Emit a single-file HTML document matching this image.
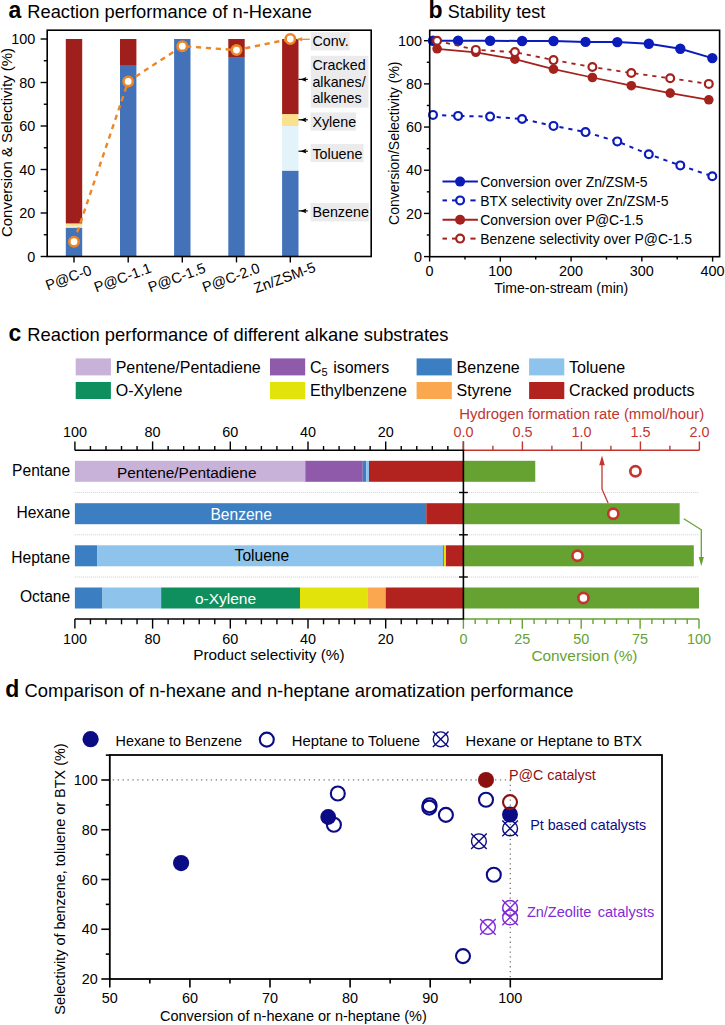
<!DOCTYPE html>
<html><head><meta charset="utf-8"><title>Figure</title>
<style>
html,body{margin:0;padding:0;background:#fff;}
svg{display:block;font-family:"Liberation Sans", Arial, Helvetica, sans-serif;}
</style></head>
<body>
<svg width="725" height="1025" viewBox="0 0 725 1025">
<rect width="725" height="1025" fill="#fff"/>
<text x="8.6" y="17.8" font-size="23" font-weight="bold">a</text>
<text x="27.3" y="17.8" font-size="18.3">Reaction performance of n-Hexane</text>
<rect x="65.8" y="227.57" width="16.4" height="28.93" fill="#4372b8"/>
<rect x="65.8" y="226.49" width="16.4" height="1.09" fill="#e2f3fa"/>
<rect x="65.8" y="223.44" width="16.4" height="3.05" fill="#fbe08e"/>
<rect x="65.8" y="39" width="16.4" height="184.44" fill="#9e1f1b"/>
<rect x="120" y="65.75" width="16.4" height="190.75" fill="#4372b8"/>
<rect x="120" y="39" width="16.4" height="26.75" fill="#9e1f1b"/>
<rect x="174.1" y="39" width="16.4" height="217.5" fill="#4372b8"/>
<rect x="228.3" y="57.05" width="16.4" height="199.45" fill="#4372b8"/>
<rect x="228.3" y="39" width="16.4" height="18.05" fill="#9e1f1b"/>
<rect x="282.1" y="170.59" width="16.4" height="85.91" fill="#4372b8"/>
<rect x="282.1" y="126" width="16.4" height="44.59" fill="#e2f3fa"/>
<rect x="282.1" y="114.04" width="16.4" height="11.96" fill="#fbe08e"/>
<rect x="282.1" y="39" width="16.4" height="75.04" fill="#9e1f1b"/>
<rect x="310.8" y="32.2" width="39" height="18.2" fill="#ebebeb"/>
<rect x="310.8" y="55.8" width="57.7" height="51.8" fill="#ebebeb"/>
<rect x="310.6" y="112.4" width="45.5" height="18.3" fill="#ebebeb"/>
<rect x="310.6" y="144" width="53" height="18.1" fill="#ebebeb"/>
<rect x="310.6" y="203" width="58.3" height="18.4" fill="#ebebeb"/>
<text x="312.4" y="46.2" font-size="14.3">Conv.</text>
<text x="312.4" y="70.3" font-size="14.3">Cracked</text>
<text x="312.4" y="87.2" font-size="14.3">alkanes/</text>
<text x="312.4" y="103.3" font-size="14.3">alkenes</text>
<text x="312.4" y="127.2" font-size="14.3">Xylene</text>
<text x="312.4" y="158.6" font-size="14.3">Toluene</text>
<text x="312.4" y="217.3" font-size="14.3">Benzene</text>
<line x1="298.5" y1="79.4" x2="307.8" y2="79.4" stroke="#000" stroke-width="1.2"/>
<path d="M300.4 79.4 L306.4 77 L305.3 79.4 L306.4 81.8 Z" fill="#000"/>
<line x1="298.5" y1="119.8" x2="307.8" y2="119.8" stroke="#000" stroke-width="1.2"/>
<path d="M300.4 119.8 L306.4 117.4 L305.3 119.8 L306.4 122.2 Z" fill="#000"/>
<line x1="298.5" y1="151.2" x2="307.8" y2="151.2" stroke="#000" stroke-width="1.2"/>
<path d="M300.4 151.2 L306.4 148.8 L305.3 151.2 L306.4 153.6 Z" fill="#000"/>
<line x1="298.5" y1="210.9" x2="307.8" y2="210.9" stroke="#000" stroke-width="1.2"/>
<path d="M300.4 210.9 L306.4 208.5 L305.3 210.9 L306.4 213.3 Z" fill="#000"/>
<line x1="297.5" y1="39.3" x2="309.8" y2="39.3" stroke="#ec8727" stroke-width="1.3"/>
<path d="M296.8 39.3 L302.5 37.0 L301.6 39.3 L302.5 41.6 Z" fill="#ec8727"/>
<rect x="47.2" y="30.2" width="324" height="226.3" fill="none" stroke="#000" stroke-width="1.6"/>
<line x1="40.6" y1="256.5" x2="47.2" y2="256.5" stroke="#000" stroke-width="1.4"/>
<text x="35.2" y="261.6" font-size="14.4" text-anchor="end">0</text>
<line x1="43.8" y1="234.75" x2="47.2" y2="234.75" stroke="#000" stroke-width="1.4"/>
<line x1="40.6" y1="213" x2="47.2" y2="213" stroke="#000" stroke-width="1.4"/>
<text x="35.2" y="218.1" font-size="14.4" text-anchor="end">20</text>
<line x1="43.8" y1="191.25" x2="47.2" y2="191.25" stroke="#000" stroke-width="1.4"/>
<line x1="40.6" y1="169.5" x2="47.2" y2="169.5" stroke="#000" stroke-width="1.4"/>
<text x="35.2" y="174.6" font-size="14.4" text-anchor="end">40</text>
<line x1="43.8" y1="147.75" x2="47.2" y2="147.75" stroke="#000" stroke-width="1.4"/>
<line x1="40.6" y1="126" x2="47.2" y2="126" stroke="#000" stroke-width="1.4"/>
<text x="35.2" y="131.1" font-size="14.4" text-anchor="end">60</text>
<line x1="43.8" y1="104.25" x2="47.2" y2="104.25" stroke="#000" stroke-width="1.4"/>
<line x1="40.6" y1="82.5" x2="47.2" y2="82.5" stroke="#000" stroke-width="1.4"/>
<text x="35.2" y="87.6" font-size="14.4" text-anchor="end">80</text>
<line x1="43.8" y1="60.75" x2="47.2" y2="60.75" stroke="#000" stroke-width="1.4"/>
<line x1="40.6" y1="39" x2="47.2" y2="39" stroke="#000" stroke-width="1.4"/>
<text x="35.2" y="44.1" font-size="14.4" text-anchor="end">100</text>
<line x1="74" y1="256.5" x2="74" y2="262.4" stroke="#000" stroke-width="1.4"/>
<text transform="translate(70.1,282.3) rotate(-20)" font-size="14.5" text-anchor="middle">P@C-0</text>
<line x1="128.2" y1="256.5" x2="128.2" y2="262.4" stroke="#000" stroke-width="1.4"/>
<text transform="translate(124.3,282.3) rotate(-20)" font-size="14.5" text-anchor="middle">P@C-1.1</text>
<line x1="182.3" y1="256.5" x2="182.3" y2="262.4" stroke="#000" stroke-width="1.4"/>
<text transform="translate(178.4,282.3) rotate(-20)" font-size="14.5" text-anchor="middle">P@C-1.5</text>
<line x1="236.5" y1="256.5" x2="236.5" y2="262.4" stroke="#000" stroke-width="1.4"/>
<text transform="translate(232.6,282.3) rotate(-20)" font-size="14.5" text-anchor="middle">P@C-2.0</text>
<line x1="290.3" y1="256.5" x2="290.3" y2="262.4" stroke="#000" stroke-width="1.4"/>
<text transform="translate(286.4,282.3) rotate(-20)" font-size="14.5" text-anchor="middle">Zn/ZSM-5</text>
<polyline points="74,241.71 128.2,81.41 182.3,46.18 236.5,50.09 290.3,39" fill="none" stroke="#ec8727" stroke-width="2.4" stroke-dasharray="5.2,4.7"/>
<circle cx="74" cy="241.71" r="4.7" fill="#fff" stroke="#ec8727" stroke-width="2.6"/>
<circle cx="128.2" cy="81.41" r="4.7" fill="#fff" stroke="#ec8727" stroke-width="2.6"/>
<circle cx="182.3" cy="46.18" r="4.7" fill="#fff" stroke="#ec8727" stroke-width="2.6"/>
<circle cx="236.5" cy="50.09" r="4.7" fill="#fff" stroke="#ec8727" stroke-width="2.6"/>
<circle cx="290.3" cy="39" r="4.7" fill="#fff" stroke="#ec8727" stroke-width="2.6"/>
<text transform="translate(11.6,142.5) rotate(-90)" font-size="15" text-anchor="middle">Conversion &amp; Selectivity (%)</text>
<text x="428.6" y="17.8" font-size="23" font-weight="bold">b</text>
<text x="447.8" y="17.8" font-size="18">Stability<tspan x="516.2">test</tspan></text>
<line x1="424" y1="256.6" x2="429.7" y2="256.6" stroke="#000" stroke-width="1.4"/>
<text x="422" y="261.7" font-size="14.4" text-anchor="end">0</text>
<line x1="426.8" y1="235.01" x2="429.7" y2="235.01" stroke="#000" stroke-width="1.4"/>
<line x1="424" y1="213.42" x2="429.7" y2="213.42" stroke="#000" stroke-width="1.4"/>
<text x="422" y="218.52" font-size="14.4" text-anchor="end">20</text>
<line x1="426.8" y1="191.83" x2="429.7" y2="191.83" stroke="#000" stroke-width="1.4"/>
<line x1="424" y1="170.24" x2="429.7" y2="170.24" stroke="#000" stroke-width="1.4"/>
<text x="422" y="175.34" font-size="14.4" text-anchor="end">40</text>
<line x1="426.8" y1="148.65" x2="429.7" y2="148.65" stroke="#000" stroke-width="1.4"/>
<line x1="424" y1="127.06" x2="429.7" y2="127.06" stroke="#000" stroke-width="1.4"/>
<text x="422" y="132.16" font-size="14.4" text-anchor="end">60</text>
<line x1="426.8" y1="105.47" x2="429.7" y2="105.47" stroke="#000" stroke-width="1.4"/>
<line x1="424" y1="83.88" x2="429.7" y2="83.88" stroke="#000" stroke-width="1.4"/>
<text x="422" y="88.98" font-size="14.4" text-anchor="end">80</text>
<line x1="426.8" y1="62.29" x2="429.7" y2="62.29" stroke="#000" stroke-width="1.4"/>
<line x1="424" y1="40.7" x2="429.7" y2="40.7" stroke="#000" stroke-width="1.4"/>
<text x="422" y="45.8" font-size="14.4" text-anchor="end">100</text>
<line x1="429.6" y1="256.7" x2="429.6" y2="261.6" stroke="#000" stroke-width="1.4"/>
<text x="429.6" y="276.4" font-size="14.4" text-anchor="middle">0</text>
<line x1="464.98" y1="256.7" x2="464.98" y2="259.6" stroke="#000" stroke-width="1.4"/>
<line x1="500.35" y1="256.7" x2="500.35" y2="261.6" stroke="#000" stroke-width="1.4"/>
<text x="500.35" y="276.4" font-size="14.4" text-anchor="middle">100</text>
<line x1="535.73" y1="256.7" x2="535.73" y2="259.6" stroke="#000" stroke-width="1.4"/>
<line x1="571.1" y1="256.7" x2="571.1" y2="261.6" stroke="#000" stroke-width="1.4"/>
<text x="571.1" y="276.4" font-size="14.4" text-anchor="middle">200</text>
<line x1="606.48" y1="256.7" x2="606.48" y2="259.6" stroke="#000" stroke-width="1.4"/>
<line x1="641.85" y1="256.7" x2="641.85" y2="261.6" stroke="#000" stroke-width="1.4"/>
<text x="641.85" y="276.4" font-size="14.4" text-anchor="middle">300</text>
<line x1="677.23" y1="256.7" x2="677.23" y2="259.6" stroke="#000" stroke-width="1.4"/>
<line x1="712.6" y1="256.7" x2="712.6" y2="261.6" stroke="#000" stroke-width="1.4"/>
<text x="712.6" y="276.4" font-size="14.4" text-anchor="middle">400</text>
<text transform="translate(399.4,143.2) rotate(-90)" font-size="14" text-anchor="middle">Conversion/Selectivity (%)</text>
<text x="494.2" y="292.5" font-size="14">Time-on-stream (min)</text>
<polyline points="433,40.7 458.1,40.7 490.1,40.7 522.1,41 553.5,41 585.5,41.9 617.3,42.1 648.8,43.8 680.3,48.8 712.3,58.1" fill="none" stroke="#0c1cba" stroke-width="2.0"/>
<circle cx="433" cy="40.7" r="5.2" fill="#0c1cba"/>
<circle cx="458.1" cy="40.7" r="5.2" fill="#0c1cba"/>
<circle cx="490.1" cy="40.7" r="5.2" fill="#0c1cba"/>
<circle cx="522.1" cy="41" r="5.2" fill="#0c1cba"/>
<circle cx="553.5" cy="41" r="5.2" fill="#0c1cba"/>
<circle cx="585.5" cy="41.9" r="5.2" fill="#0c1cba"/>
<circle cx="617.3" cy="42.1" r="5.2" fill="#0c1cba"/>
<circle cx="648.8" cy="43.8" r="5.2" fill="#0c1cba"/>
<circle cx="680.3" cy="48.8" r="5.2" fill="#0c1cba"/>
<circle cx="712.3" cy="58.1" r="5.2" fill="#0c1cba"/>
<polyline points="433,114.9 458.1,115.9 490.1,116.6 522.1,119 553.5,125.9 585.5,132.1 617.3,141.4 648.8,154.3 680.3,165.4 712.3,176.3" fill="none" stroke="#0c1cba" stroke-width="2.0" stroke-dasharray="4.2,4.9"/>
<circle cx="433" cy="114.9" r="3.9" fill="#fff" stroke="#0c1cba" stroke-width="2.2"/>
<circle cx="458.1" cy="115.9" r="3.9" fill="#fff" stroke="#0c1cba" stroke-width="2.2"/>
<circle cx="490.1" cy="116.6" r="3.9" fill="#fff" stroke="#0c1cba" stroke-width="2.2"/>
<circle cx="522.1" cy="119" r="3.9" fill="#fff" stroke="#0c1cba" stroke-width="2.2"/>
<circle cx="553.5" cy="125.9" r="3.9" fill="#fff" stroke="#0c1cba" stroke-width="2.2"/>
<circle cx="585.5" cy="132.1" r="3.9" fill="#fff" stroke="#0c1cba" stroke-width="2.2"/>
<circle cx="617.3" cy="141.4" r="3.9" fill="#fff" stroke="#0c1cba" stroke-width="2.2"/>
<circle cx="648.8" cy="154.3" r="3.9" fill="#fff" stroke="#0c1cba" stroke-width="2.2"/>
<circle cx="680.3" cy="165.4" r="3.9" fill="#fff" stroke="#0c1cba" stroke-width="2.2"/>
<circle cx="712.3" cy="176.3" r="3.9" fill="#fff" stroke="#0c1cba" stroke-width="2.2"/>
<polyline points="437.1,48.8 475.8,52.3 514.9,59.2 553.5,69.2 592.4,77.5 631.3,85.7 670.2,93.1 708.8,99.8" fill="none" stroke="#a3221d" stroke-width="1.75"/>
<circle cx="437.1" cy="48.8" r="4.8" fill="#a3221d"/>
<circle cx="475.8" cy="52.3" r="4.8" fill="#a3221d"/>
<circle cx="514.9" cy="59.2" r="4.8" fill="#a3221d"/>
<circle cx="553.5" cy="69.2" r="4.8" fill="#a3221d"/>
<circle cx="592.4" cy="77.5" r="4.8" fill="#a3221d"/>
<circle cx="631.3" cy="85.7" r="4.8" fill="#a3221d"/>
<circle cx="670.2" cy="93.1" r="4.8" fill="#a3221d"/>
<circle cx="708.8" cy="99.8" r="4.8" fill="#a3221d"/>
<polyline points="437.1,40.7 475.8,49.9 514.9,52.1 553.5,60.1 592.4,67 631.3,73 670.2,78.3 708.8,83.9" fill="none" stroke="#a3221d" stroke-width="1.8" stroke-dasharray="4.2,4.9"/>
<circle cx="437.1" cy="40.7" r="3.9" fill="#fff" stroke="#a3221d" stroke-width="2.2"/>
<circle cx="475.8" cy="49.9" r="3.9" fill="#fff" stroke="#a3221d" stroke-width="2.2"/>
<circle cx="514.9" cy="52.1" r="3.9" fill="#fff" stroke="#a3221d" stroke-width="2.2"/>
<circle cx="553.5" cy="60.1" r="3.9" fill="#fff" stroke="#a3221d" stroke-width="2.2"/>
<circle cx="592.4" cy="67" r="3.9" fill="#fff" stroke="#a3221d" stroke-width="2.2"/>
<circle cx="631.3" cy="73" r="3.9" fill="#fff" stroke="#a3221d" stroke-width="2.2"/>
<circle cx="670.2" cy="78.3" r="3.9" fill="#fff" stroke="#a3221d" stroke-width="2.2"/>
<circle cx="708.8" cy="83.9" r="3.9" fill="#fff" stroke="#a3221d" stroke-width="2.2"/>
<line x1="442.5" y1="181.6" x2="477.9" y2="181.6" stroke="#0c1cba" stroke-width="2"/>
<circle cx="460.1" cy="181.6" r="5" fill="#0c1cba"/>
<text x="480.3" y="186.9" font-size="13.95">Conversion over Zn/ZSM-5</text>
<line x1="442.5" y1="200.4" x2="447" y2="200.4" stroke="#0c1cba" stroke-width="2"/>
<line x1="452" y1="200.4" x2="456.5" y2="200.4" stroke="#0c1cba" stroke-width="2"/>
<line x1="470.4" y1="200.4" x2="475.6" y2="200.4" stroke="#0c1cba" stroke-width="2"/>
<circle cx="460.1" cy="200.4" r="3.9" fill="#fff" stroke="#0c1cba" stroke-width="2.2"/>
<text x="480.3" y="205.7" font-size="13.95">BTX selectivity over Zn/ZSM-5</text>
<line x1="442.5" y1="219.7" x2="477.9" y2="219.7" stroke="#a3221d" stroke-width="2"/>
<circle cx="460.1" cy="219.7" r="5" fill="#a3221d"/>
<text x="480.3" y="225" font-size="13.95">Conversion over P@C-1.5</text>
<line x1="442.5" y1="238.6" x2="447" y2="238.6" stroke="#a3221d" stroke-width="2"/>
<line x1="452" y1="238.6" x2="456.5" y2="238.6" stroke="#a3221d" stroke-width="2"/>
<line x1="470.4" y1="238.6" x2="475.6" y2="238.6" stroke="#a3221d" stroke-width="2"/>
<circle cx="460.1" cy="238.6" r="3.9" fill="#fff" stroke="#a3221d" stroke-width="2.2"/>
<text x="480.3" y="243.9" font-size="13.95">Benzene selectivity over P@C-1.5</text>
<rect x="429.7" y="30.3" width="289.9" height="226.4" fill="none" stroke="#000" stroke-width="1.6"/>
<text x="8.6" y="341" font-size="23" font-weight="bold">c</text>
<text x="27.3" y="341" font-size="18.38">Reaction performance of different alkane substrates</text>
<rect x="75.7" y="358.4" width="35.2" height="17" fill="#c9b2da"/>
<text x="115.7" y="372.8" font-size="16">Pentene/Pentadiene</text>
<rect x="270" y="358.4" width="35.2" height="17" fill="#8f5aa9"/>
<text x="310" y="372.8" font-size="16">C<tspan font-size="11" dy="3">5</tspan><tspan dy="-3" dx="1"> isomers</tspan></text>
<rect x="416.6" y="358.4" width="35.2" height="17" fill="#3b7ec1"/>
<text x="456.6" y="372.8" font-size="16">Benzene</text>
<rect x="529.1" y="358.4" width="35.2" height="17" fill="#8ec4ec"/>
<text x="569.1" y="372.8" font-size="16">Toluene</text>
<rect x="75.7" y="382" width="35.2" height="17" fill="#0f8e5e"/>
<text x="115.7" y="396.4" font-size="16">O-Xylene</text>
<rect x="270" y="382" width="35.2" height="17" fill="#e3e30c"/>
<text x="310" y="396.4" font-size="16">Ethylbenzene</text>
<rect x="416.6" y="382" width="35.2" height="17" fill="#fba750"/>
<text x="456.6" y="396.4" font-size="16">Styrene</text>
<rect x="529.1" y="382" width="35.2" height="17" fill="#b2231f"/>
<text x="569.1" y="396.4" font-size="16">Cracked products</text>
<line x1="74.8" y1="492.5" x2="699" y2="492.5" stroke="#cfcfcf" stroke-width="1.0" stroke-dasharray="1,1"/>
<line x1="74.8" y1="534.8" x2="699" y2="534.8" stroke="#cfcfcf" stroke-width="1.0" stroke-dasharray="1,1"/>
<line x1="74.8" y1="577" x2="699" y2="577" stroke="#cfcfcf" stroke-width="1.0" stroke-dasharray="1,1"/>
<rect x="74.9" y="460.8" width="230.38" height="21" fill="#c9b2da"/>
<rect x="305.28" y="460.8" width="57.5" height="21" fill="#8f5aa9"/>
<rect x="362.78" y="460.8" width="3.5" height="21" fill="#3b7ec1"/>
<rect x="366.27" y="460.8" width="2.72" height="21" fill="#8ec4ec"/>
<rect x="368.99" y="460.8" width="94.41" height="21" fill="#b2231f"/>
<rect x="463.4" y="460.8" width="71.86" height="21" fill="#66a232"/>
<rect x="74.9" y="503.2" width="351.4" height="21" fill="#3b7ec1"/>
<rect x="426.3" y="503.2" width="37.1" height="21" fill="#b2231f"/>
<rect x="463.4" y="503.2" width="216.28" height="21" fill="#66a232"/>
<rect x="74.9" y="545.3" width="22.14" height="21" fill="#3b7ec1"/>
<rect x="97.04" y="545.3" width="346.15" height="21" fill="#8ec4ec"/>
<rect x="443.2" y="545.3" width="0.78" height="21" fill="#0f8e5e"/>
<rect x="443.97" y="545.3" width="1.94" height="21" fill="#e3e30c"/>
<rect x="445.92" y="545.3" width="17.48" height="21" fill="#b2231f"/>
<rect x="463.4" y="545.3" width="230.42" height="21" fill="#66a232"/>
<rect x="74.9" y="587.5" width="27.58" height="21" fill="#3b7ec1"/>
<rect x="102.48" y="587.5" width="58.66" height="21" fill="#8ec4ec"/>
<rect x="161.15" y="587.5" width="138.85" height="21" fill="#0f8e5e"/>
<rect x="300" y="587.5" width="67.44" height="21" fill="#e3e30c"/>
<rect x="367.44" y="587.5" width="18.26" height="21" fill="#fba750"/>
<rect x="385.7" y="587.5" width="77.7" height="21" fill="#b2231f"/>
<rect x="463.4" y="587.5" width="235.6" height="21" fill="#66a232"/>
<text x="117" y="477.6" font-size="15.4">Pentene/Pentadiene</text>
<text x="210.4" y="520" font-size="15.6" fill="#fff">Benzene</text>
<text x="234.6" y="560.8" font-size="15.6">Toluene</text>
<text x="194.9" y="603.5" font-size="15.5" fill="#fff">o-Xylene</text>
<text x="70.2" y="475.6" font-size="15.6" text-anchor="end">Pentane</text>
<text x="70.2" y="518.4" font-size="15.6" text-anchor="end">Hexane</text>
<text x="70.2" y="562.6" font-size="15.6" text-anchor="end">Heptane</text>
<text x="70.2" y="602.1" font-size="15.6" text-anchor="end">Octane</text>
<circle cx="635.44" cy="471.3" r="5.1" fill="#fff" stroke="#c3362f" stroke-width="2.7"/>
<circle cx="613.26" cy="513.7" r="5.1" fill="#fff" stroke="#c3362f" stroke-width="2.7"/>
<circle cx="577.51" cy="555.8" r="5.1" fill="#fff" stroke="#c3362f" stroke-width="2.7"/>
<circle cx="583.41" cy="598" r="5.1" fill="#fff" stroke="#c3362f" stroke-width="2.7"/>
<polyline points="608.1,503.1 602.0,489.2 602.0,464" fill="none" stroke="#c3362f" stroke-width="1.3"/>
<path d="M602 455.4 L604.8 465.2 L599.2 465.2 Z" fill="#c3362f"/>
<polyline points="683.8,518.8 701.3,529.8 701.3,558" fill="none" stroke="#66a232" stroke-width="1.3"/>
<path d="M701.3 566.2 L703.9 557 L698.7 557 Z" fill="#66a232"/>
<line x1="74.8" y1="450.3" x2="463.4" y2="450.3" stroke="#000" stroke-width="1.5"/>
<line x1="463.4" y1="450.3" x2="463.4" y2="441.4" stroke="#000" stroke-width="1.4"/>
<line x1="447.86" y1="450.3" x2="447.86" y2="446" stroke="#000" stroke-width="1.4"/>
<line x1="432.32" y1="450.3" x2="432.32" y2="446" stroke="#000" stroke-width="1.4"/>
<line x1="416.78" y1="450.3" x2="416.78" y2="446" stroke="#000" stroke-width="1.4"/>
<line x1="401.24" y1="450.3" x2="401.24" y2="446" stroke="#000" stroke-width="1.4"/>
<line x1="385.7" y1="450.3" x2="385.7" y2="441.4" stroke="#000" stroke-width="1.4"/>
<text x="385.7" y="436.5" font-size="14.4" text-anchor="middle">20</text>
<line x1="370.16" y1="450.3" x2="370.16" y2="446" stroke="#000" stroke-width="1.4"/>
<line x1="354.62" y1="450.3" x2="354.62" y2="446" stroke="#000" stroke-width="1.4"/>
<line x1="339.08" y1="450.3" x2="339.08" y2="446" stroke="#000" stroke-width="1.4"/>
<line x1="323.54" y1="450.3" x2="323.54" y2="446" stroke="#000" stroke-width="1.4"/>
<line x1="308" y1="450.3" x2="308" y2="441.4" stroke="#000" stroke-width="1.4"/>
<text x="308" y="436.5" font-size="14.4" text-anchor="middle">40</text>
<line x1="292.46" y1="450.3" x2="292.46" y2="446" stroke="#000" stroke-width="1.4"/>
<line x1="276.92" y1="450.3" x2="276.92" y2="446" stroke="#000" stroke-width="1.4"/>
<line x1="261.38" y1="450.3" x2="261.38" y2="446" stroke="#000" stroke-width="1.4"/>
<line x1="245.84" y1="450.3" x2="245.84" y2="446" stroke="#000" stroke-width="1.4"/>
<line x1="230.3" y1="450.3" x2="230.3" y2="441.4" stroke="#000" stroke-width="1.4"/>
<text x="230.3" y="436.5" font-size="14.4" text-anchor="middle">60</text>
<line x1="214.76" y1="450.3" x2="214.76" y2="446" stroke="#000" stroke-width="1.4"/>
<line x1="199.22" y1="450.3" x2="199.22" y2="446" stroke="#000" stroke-width="1.4"/>
<line x1="183.68" y1="450.3" x2="183.68" y2="446" stroke="#000" stroke-width="1.4"/>
<line x1="168.14" y1="450.3" x2="168.14" y2="446" stroke="#000" stroke-width="1.4"/>
<line x1="152.6" y1="450.3" x2="152.6" y2="441.4" stroke="#000" stroke-width="1.4"/>
<text x="152.6" y="436.5" font-size="14.4" text-anchor="middle">80</text>
<line x1="137.06" y1="450.3" x2="137.06" y2="446" stroke="#000" stroke-width="1.4"/>
<line x1="121.52" y1="450.3" x2="121.52" y2="446" stroke="#000" stroke-width="1.4"/>
<line x1="105.98" y1="450.3" x2="105.98" y2="446" stroke="#000" stroke-width="1.4"/>
<line x1="90.44" y1="450.3" x2="90.44" y2="446" stroke="#000" stroke-width="1.4"/>
<line x1="74.9" y1="450.3" x2="74.9" y2="441.4" stroke="#000" stroke-width="1.4"/>
<text x="74.9" y="436.5" font-size="14.4" text-anchor="middle">100</text>
<line x1="74.8" y1="618.9" x2="463.4" y2="618.9" stroke="#000" stroke-width="1.5"/>
<line x1="447.86" y1="618.9" x2="447.86" y2="624.3" stroke="#000" stroke-width="1.4"/>
<line x1="432.32" y1="618.9" x2="432.32" y2="624.3" stroke="#000" stroke-width="1.4"/>
<line x1="416.78" y1="618.9" x2="416.78" y2="624.3" stroke="#000" stroke-width="1.4"/>
<line x1="401.24" y1="618.9" x2="401.24" y2="624.3" stroke="#000" stroke-width="1.4"/>
<line x1="385.7" y1="618.9" x2="385.7" y2="628.6" stroke="#000" stroke-width="1.4"/>
<text x="385.7" y="644.4" font-size="14.4" text-anchor="middle">20</text>
<line x1="370.16" y1="618.9" x2="370.16" y2="624.3" stroke="#000" stroke-width="1.4"/>
<line x1="354.62" y1="618.9" x2="354.62" y2="624.3" stroke="#000" stroke-width="1.4"/>
<line x1="339.08" y1="618.9" x2="339.08" y2="624.3" stroke="#000" stroke-width="1.4"/>
<line x1="323.54" y1="618.9" x2="323.54" y2="624.3" stroke="#000" stroke-width="1.4"/>
<line x1="308" y1="618.9" x2="308" y2="628.6" stroke="#000" stroke-width="1.4"/>
<text x="308" y="644.4" font-size="14.4" text-anchor="middle">40</text>
<line x1="292.46" y1="618.9" x2="292.46" y2="624.3" stroke="#000" stroke-width="1.4"/>
<line x1="276.92" y1="618.9" x2="276.92" y2="624.3" stroke="#000" stroke-width="1.4"/>
<line x1="261.38" y1="618.9" x2="261.38" y2="624.3" stroke="#000" stroke-width="1.4"/>
<line x1="245.84" y1="618.9" x2="245.84" y2="624.3" stroke="#000" stroke-width="1.4"/>
<line x1="230.3" y1="618.9" x2="230.3" y2="628.6" stroke="#000" stroke-width="1.4"/>
<text x="230.3" y="644.4" font-size="14.4" text-anchor="middle">60</text>
<line x1="214.76" y1="618.9" x2="214.76" y2="624.3" stroke="#000" stroke-width="1.4"/>
<line x1="199.22" y1="618.9" x2="199.22" y2="624.3" stroke="#000" stroke-width="1.4"/>
<line x1="183.68" y1="618.9" x2="183.68" y2="624.3" stroke="#000" stroke-width="1.4"/>
<line x1="168.14" y1="618.9" x2="168.14" y2="624.3" stroke="#000" stroke-width="1.4"/>
<line x1="152.6" y1="618.9" x2="152.6" y2="628.6" stroke="#000" stroke-width="1.4"/>
<text x="152.6" y="644.4" font-size="14.4" text-anchor="middle">80</text>
<line x1="137.06" y1="618.9" x2="137.06" y2="624.3" stroke="#000" stroke-width="1.4"/>
<line x1="121.52" y1="618.9" x2="121.52" y2="624.3" stroke="#000" stroke-width="1.4"/>
<line x1="105.98" y1="618.9" x2="105.98" y2="624.3" stroke="#000" stroke-width="1.4"/>
<line x1="90.44" y1="618.9" x2="90.44" y2="624.3" stroke="#000" stroke-width="1.4"/>
<line x1="74.9" y1="618.9" x2="74.9" y2="628.6" stroke="#000" stroke-width="1.4"/>
<text x="74.9" y="644.4" font-size="14.4" text-anchor="middle">100</text>
<text x="193.2" y="660.4" font-size="15.3">Product selectivity (%)</text>
<line x1="463.4" y1="450.3" x2="699.4" y2="450.3" stroke="#c3362f" stroke-width="1.5"/>
<line x1="463.4" y1="450.3" x2="463.4" y2="441.4" stroke="#c3362f" stroke-width="1.4"/>
<text x="463.4" y="436.6" font-size="14.4" text-anchor="middle" fill="#c3362f">0.0</text>
<line x1="492.9" y1="450.3" x2="492.9" y2="445.8" stroke="#c3362f" stroke-width="1.4"/>
<line x1="522.4" y1="450.3" x2="522.4" y2="441.4" stroke="#c3362f" stroke-width="1.4"/>
<text x="522.4" y="436.6" font-size="14.4" text-anchor="middle" fill="#c3362f">0.5</text>
<line x1="551.9" y1="450.3" x2="551.9" y2="445.8" stroke="#c3362f" stroke-width="1.4"/>
<line x1="581.4" y1="450.3" x2="581.4" y2="441.4" stroke="#c3362f" stroke-width="1.4"/>
<text x="581.4" y="436.6" font-size="14.4" text-anchor="middle" fill="#c3362f">1.0</text>
<line x1="610.9" y1="450.3" x2="610.9" y2="445.8" stroke="#c3362f" stroke-width="1.4"/>
<line x1="640.4" y1="450.3" x2="640.4" y2="441.4" stroke="#c3362f" stroke-width="1.4"/>
<text x="640.4" y="436.6" font-size="14.4" text-anchor="middle" fill="#c3362f">1.5</text>
<line x1="669.9" y1="450.3" x2="669.9" y2="445.8" stroke="#c3362f" stroke-width="1.4"/>
<line x1="699.4" y1="450.3" x2="699.4" y2="441.4" stroke="#c3362f" stroke-width="1.4"/>
<text x="699.4" y="436.6" font-size="14.4" text-anchor="middle" fill="#c3362f">2.0</text>
<text x="459.2" y="418.9" font-size="14.9" fill="#c3362f">Hydrogen formation rate (mmol/hour)</text>
<line x1="463.4" y1="618.9" x2="699" y2="618.9" stroke="#66a232" stroke-width="1.5"/>
<line x1="463.4" y1="618.9" x2="463.4" y2="628.8" stroke="#66a232" stroke-width="1.4"/>
<text x="463.4" y="643.6" font-size="14.4" text-anchor="middle" fill="#66a232">0</text>
<line x1="475.18" y1="618.9" x2="475.18" y2="624" stroke="#66a232" stroke-width="1.4"/>
<line x1="486.96" y1="618.9" x2="486.96" y2="624" stroke="#66a232" stroke-width="1.4"/>
<line x1="498.74" y1="618.9" x2="498.74" y2="624" stroke="#66a232" stroke-width="1.4"/>
<line x1="510.52" y1="618.9" x2="510.52" y2="624" stroke="#66a232" stroke-width="1.4"/>
<line x1="522.3" y1="618.9" x2="522.3" y2="628.8" stroke="#66a232" stroke-width="1.4"/>
<text x="522.3" y="643.6" font-size="14.4" text-anchor="middle" fill="#66a232">25</text>
<line x1="534.08" y1="618.9" x2="534.08" y2="624" stroke="#66a232" stroke-width="1.4"/>
<line x1="545.86" y1="618.9" x2="545.86" y2="624" stroke="#66a232" stroke-width="1.4"/>
<line x1="557.64" y1="618.9" x2="557.64" y2="624" stroke="#66a232" stroke-width="1.4"/>
<line x1="569.42" y1="618.9" x2="569.42" y2="624" stroke="#66a232" stroke-width="1.4"/>
<line x1="581.2" y1="618.9" x2="581.2" y2="628.8" stroke="#66a232" stroke-width="1.4"/>
<text x="581.2" y="643.6" font-size="14.4" text-anchor="middle" fill="#66a232">50</text>
<line x1="592.98" y1="618.9" x2="592.98" y2="624" stroke="#66a232" stroke-width="1.4"/>
<line x1="604.76" y1="618.9" x2="604.76" y2="624" stroke="#66a232" stroke-width="1.4"/>
<line x1="616.54" y1="618.9" x2="616.54" y2="624" stroke="#66a232" stroke-width="1.4"/>
<line x1="628.32" y1="618.9" x2="628.32" y2="624" stroke="#66a232" stroke-width="1.4"/>
<line x1="640.1" y1="618.9" x2="640.1" y2="628.8" stroke="#66a232" stroke-width="1.4"/>
<text x="640.1" y="643.6" font-size="14.4" text-anchor="middle" fill="#66a232">75</text>
<line x1="651.88" y1="618.9" x2="651.88" y2="624" stroke="#66a232" stroke-width="1.4"/>
<line x1="663.66" y1="618.9" x2="663.66" y2="624" stroke="#66a232" stroke-width="1.4"/>
<line x1="675.44" y1="618.9" x2="675.44" y2="624" stroke="#66a232" stroke-width="1.4"/>
<line x1="687.22" y1="618.9" x2="687.22" y2="624" stroke="#66a232" stroke-width="1.4"/>
<line x1="699" y1="618.9" x2="699" y2="628.8" stroke="#66a232" stroke-width="1.4"/>
<text x="699" y="643.6" font-size="14.4" text-anchor="middle" fill="#66a232">100</text>
<text x="531.4" y="661.2" font-size="15.4" fill="#66a232">Conversion (%)</text>
<line x1="463.4" y1="449.6" x2="463.4" y2="619.6" stroke="#000" stroke-width="1.6"/>
<line x1="459" y1="492.5" x2="467.8" y2="492.5" stroke="#000" stroke-width="1.4"/>
<line x1="459" y1="534.8" x2="467.8" y2="534.8" stroke="#000" stroke-width="1.4"/>
<line x1="459" y1="577" x2="467.8" y2="577" stroke="#000" stroke-width="1.4"/>
<text x="5.2" y="696.8" font-size="23" font-weight="bold">d</text>
<text x="24.6" y="696.8" font-size="18.4">Comparison of n-hexane and n-heptane aromatization performance</text>
<circle cx="90.6" cy="739.2" r="8.1" fill="#0b0b85"/>
<text x="115.5" y="746" font-size="14.4">Hexane to Benzene</text>
<circle cx="266.8" cy="739.6" r="7" fill="none" stroke="#0b0b85" stroke-width="2.1"/>
<text x="291.8" y="746" font-size="14.8">Heptane to Toluene</text>
<circle cx="440.7" cy="739.3" r="7.4" fill="none" stroke="#0b0b85" stroke-width="1.4"/>
<line x1="432.9" y1="731.5" x2="448.5" y2="747.1" stroke="#0b0b85" stroke-width="1.4"/>
<line x1="432.9" y1="747.1" x2="448.5" y2="731.5" stroke="#0b0b85" stroke-width="1.4"/>
<text x="465.6" y="746" font-size="14.7">Hexane or Heptane to BTX</text>
<line x1="112.8" y1="779.9" x2="510.3" y2="779.9" stroke="#777" stroke-width="1.3" stroke-dasharray="1.3,3.6"/>
<line x1="510.3" y1="779.9" x2="510.3" y2="979" stroke="#777" stroke-width="1.3" stroke-dasharray="1.3,3.6"/>
<rect x="109.8" y="755.0" width="552.2" height="224" fill="none" stroke="#000" stroke-width="1.8"/>
<line x1="101.3" y1="979" x2="109.8" y2="979" stroke="#000" stroke-width="1.6"/>
<text x="97.8" y="984.1" font-size="14.4" text-anchor="end">20</text>
<line x1="105.8" y1="954.12" x2="109.8" y2="954.12" stroke="#000" stroke-width="1.6"/>
<line x1="101.3" y1="929.25" x2="109.8" y2="929.25" stroke="#000" stroke-width="1.6"/>
<text x="97.8" y="934.35" font-size="14.4" text-anchor="end">40</text>
<line x1="105.8" y1="904.38" x2="109.8" y2="904.38" stroke="#000" stroke-width="1.6"/>
<line x1="101.3" y1="879.5" x2="109.8" y2="879.5" stroke="#000" stroke-width="1.6"/>
<text x="97.8" y="884.6" font-size="14.4" text-anchor="end">60</text>
<line x1="105.8" y1="854.62" x2="109.8" y2="854.62" stroke="#000" stroke-width="1.6"/>
<line x1="101.3" y1="829.75" x2="109.8" y2="829.75" stroke="#000" stroke-width="1.6"/>
<text x="97.8" y="834.85" font-size="14.4" text-anchor="end">80</text>
<line x1="105.8" y1="804.88" x2="109.8" y2="804.88" stroke="#000" stroke-width="1.6"/>
<line x1="101.3" y1="780" x2="109.8" y2="780" stroke="#000" stroke-width="1.6"/>
<text x="97.8" y="785.1" font-size="14.4" text-anchor="end">100</text>
<line x1="105.8" y1="755.12" x2="109.8" y2="755.12" stroke="#000" stroke-width="1.6"/>
<line x1="109.8" y1="979" x2="109.8" y2="987.5" stroke="#000" stroke-width="1.6"/>
<text x="109.8" y="1002.6" font-size="14.4" text-anchor="middle">50</text>
<line x1="149.85" y1="979" x2="149.85" y2="983.5" stroke="#000" stroke-width="1.6"/>
<line x1="189.9" y1="979" x2="189.9" y2="987.5" stroke="#000" stroke-width="1.6"/>
<text x="189.9" y="1002.6" font-size="14.4" text-anchor="middle">60</text>
<line x1="229.95" y1="979" x2="229.95" y2="983.5" stroke="#000" stroke-width="1.6"/>
<line x1="270" y1="979" x2="270" y2="987.5" stroke="#000" stroke-width="1.6"/>
<text x="270" y="1002.6" font-size="14.4" text-anchor="middle">70</text>
<line x1="310.05" y1="979" x2="310.05" y2="983.5" stroke="#000" stroke-width="1.6"/>
<line x1="350.1" y1="979" x2="350.1" y2="987.5" stroke="#000" stroke-width="1.6"/>
<text x="350.1" y="1002.6" font-size="14.4" text-anchor="middle">80</text>
<line x1="390.15" y1="979" x2="390.15" y2="983.5" stroke="#000" stroke-width="1.6"/>
<line x1="430.2" y1="979" x2="430.2" y2="987.5" stroke="#000" stroke-width="1.6"/>
<text x="430.2" y="1002.6" font-size="14.4" text-anchor="middle">90</text>
<line x1="470.25" y1="979" x2="470.25" y2="983.5" stroke="#000" stroke-width="1.6"/>
<line x1="510.3" y1="979" x2="510.3" y2="987.5" stroke="#000" stroke-width="1.6"/>
<text x="510.3" y="1002.6" font-size="14.4" text-anchor="middle">100</text>
<text transform="translate(65.0,879.0) rotate(-90)" font-size="14.45" text-anchor="middle">Selectivity of benzene, toluene or BTX (%)</text>
<text x="160" y="1021" font-size="14.5">Conversion of n-hexane or n-heptane (%)</text>
<circle cx="337.8" cy="793.5" r="7" fill="none" stroke="#0b0b85" stroke-width="2.1"/>
<circle cx="333.9" cy="824.8" r="7" fill="none" stroke="#0b0b85" stroke-width="2.1"/>
<circle cx="429.6" cy="805.2" r="7" fill="none" stroke="#0b0b85" stroke-width="2.1"/>
<circle cx="429.3" cy="807.6" r="7" fill="none" stroke="#0b0b85" stroke-width="2.1"/>
<circle cx="445.9" cy="814.9" r="7" fill="none" stroke="#0b0b85" stroke-width="2.1"/>
<circle cx="486" cy="799.8" r="7" fill="none" stroke="#0b0b85" stroke-width="2.1"/>
<circle cx="493.8" cy="874.8" r="7" fill="none" stroke="#0b0b85" stroke-width="2.1"/>
<circle cx="463" cy="956.1" r="7" fill="none" stroke="#0b0b85" stroke-width="2.1"/>
<circle cx="181.1" cy="863.1" r="8.1" fill="#0b0b85"/>
<circle cx="328.2" cy="817" r="7.9" fill="#0b0b85"/>
<circle cx="486" cy="779.9" r="8" fill="#8c1010"/>
<circle cx="510.1" cy="828.4" r="7.4" fill="none" stroke="#0b0b85" stroke-width="1.4"/>
<line x1="502.3" y1="820.6" x2="517.9" y2="836.2" stroke="#0b0b85" stroke-width="1.4"/>
<line x1="502.3" y1="836.2" x2="517.9" y2="820.6" stroke="#0b0b85" stroke-width="1.4"/>
<circle cx="510" cy="814.5" r="8" fill="#0b0b85"/>
<circle cx="510" cy="802.1" r="7" fill="none" stroke="#8c1010" stroke-width="2.1"/>
<circle cx="478.9" cy="841.3" r="7.4" fill="none" stroke="#0b0b85" stroke-width="1.4"/>
<line x1="471.1" y1="833.5" x2="486.7" y2="849.1" stroke="#0b0b85" stroke-width="1.4"/>
<line x1="471.1" y1="849.1" x2="486.7" y2="833.5" stroke="#0b0b85" stroke-width="1.4"/>
<circle cx="510.1" cy="907.9" r="7.4" fill="none" stroke="#802ad8" stroke-width="1.4"/>
<line x1="502.3" y1="900.1" x2="517.9" y2="915.7" stroke="#802ad8" stroke-width="1.4"/>
<line x1="502.3" y1="915.7" x2="517.9" y2="900.1" stroke="#802ad8" stroke-width="1.4"/>
<circle cx="510.1" cy="917.4" r="7.4" fill="none" stroke="#802ad8" stroke-width="1.4"/>
<line x1="502.3" y1="909.6" x2="517.9" y2="925.2" stroke="#802ad8" stroke-width="1.4"/>
<line x1="502.3" y1="925.2" x2="517.9" y2="909.6" stroke="#802ad8" stroke-width="1.4"/>
<circle cx="487.9" cy="926.9" r="7.4" fill="none" stroke="#802ad8" stroke-width="1.4"/>
<line x1="480.1" y1="919.1" x2="495.7" y2="934.7" stroke="#802ad8" stroke-width="1.4"/>
<line x1="480.1" y1="934.7" x2="495.7" y2="919.1" stroke="#802ad8" stroke-width="1.4"/>
<text x="509" y="780.4" font-size="14.3" fill="#8c1010">P@C catalyst</text>
<text x="530.2" y="829.7" font-size="14.3" fill="#0b0b85">Pt based catalysts</text>
<text x="526.9" y="916.6" font-size="14.5" fill="#802ad8">Zn/Zeolite <tspan dx="2.4">catalysts</tspan></text>
</svg>
</body></html>
